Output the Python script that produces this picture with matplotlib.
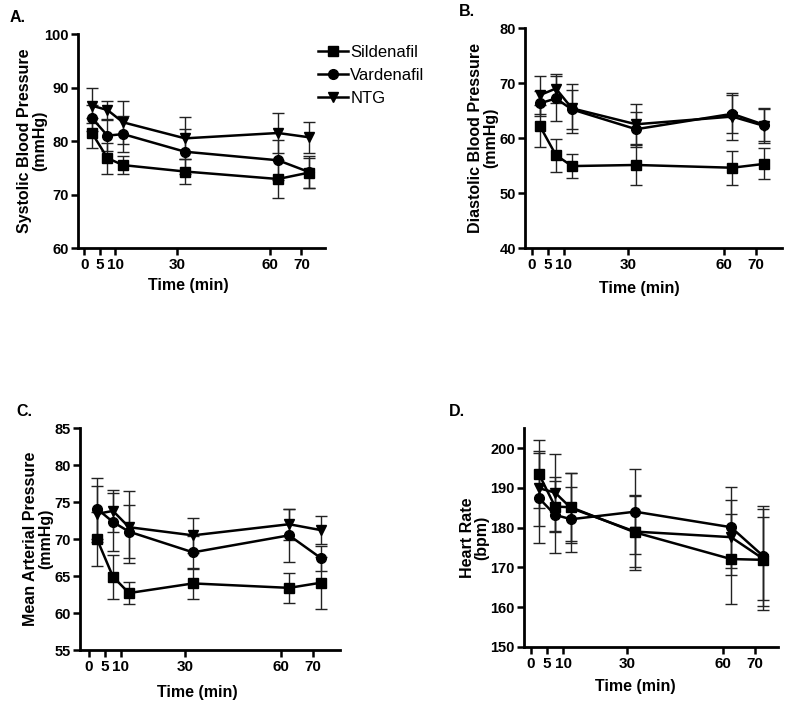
import matplotlib
matplotlib.use("Agg")
import matplotlib.pyplot as plt

plt.rcParams['font.family'] = ['Liberation Sans', 'DejaVu Sans']

# ---- data ----
time_points = [2.5, 7.5, 12.5, 32.5, 62.5, 72.5]
x_ticks = [0, 5, 10, 30, 60, 70]
series_names = ["Sildenafil", "Vardenafil", "NTG"]

sbp_sil = [81.5, 76.8, 75.5, 74.3, 72.9, 74.1]
sbp_sil_err = [2.8, 2.9, 1.7, 2.4, 3.5, 2.8]
sbp_var = [84.3, 81.0, 81.3, 78.0, 76.4, 74.2]
sbp_var_err = [2.5, 2.9, 3.4, 4.2, 3.7, 3.0]
sbp_ntg = [86.6, 85.8, 83.5, 80.5, 81.5, 80.7]
sbp_ntg_err = [3.3, 1.6, 4.0, 3.9, 3.8, 2.9]

dbp_sil = [62.2, 56.9, 54.9, 55.1, 54.6, 55.3]
dbp_sil_err = [3.8, 3.0, 2.2, 3.7, 3.1, 2.8]
dbp_var = [66.3, 67.2, 65.2, 61.6, 64.4, 62.4]
dbp_var_err = [2.3, 4.1, 3.5, 3.2, 3.4, 3.0]
dbp_ntg = [67.8, 69.0, 65.4, 62.5, 63.9, 62.2]
dbp_ntg_err = [3.4, 2.6, 4.4, 3.6, 4.3, 3.1]

map_sil = [70.0, 64.9, 62.7, 64.0, 63.4, 64.1]
map_sil_err = [3.6, 3.0, 1.5, 2.1, 2.0, 3.5]
map_var = [74.1, 72.3, 71.0, 68.2, 70.5, 67.4]
map_var_err = [4.1, 3.9, 3.6, 2.2, 3.6, 1.7]
map_ntg = [73.4, 73.8, 71.6, 70.5, 72.0, 71.2]
map_ntg_err = [3.8, 2.8, 4.9, 2.4, 2.1, 1.9]

hr_sil = [193.4, 185.3, 185.1, 178.8, 172.1, 171.9]
hr_sil_err = [8.5, 6.5, 8.5, 9.4, 11.2, 12.7]
hr_var = [187.4, 183.2, 182.1, 184.0, 180.1, 172.9]
hr_var_err = [11.3, 9.5, 8.2, 10.7, 10.2, 12.5]
hr_ntg = [189.9, 188.8, 184.9, 179.0, 177.6, 172.2]
hr_ntg_err = [9.4, 9.6, 8.7, 9.0, 9.4, 10.5]

panels = [
    dict(label="A.", ylabel="Systolic Blood Pressure\n(mmHg)", ylim=(60, 100), yticks=[60, 70, 80, 90, 100],
         xlim=(-2.0, 77.7), rect=[0.0975, 0.6487, 0.309, 0.3031], lab_xy=(10, 17),
         ylab=(-0.125, 0.5), xlab=(0.447, -0.14),
         data=[(sbp_sil, sbp_sil_err), (sbp_var, sbp_var_err), (sbp_ntg, sbp_ntg_err)]),
    dict(label="B.", ylabel="Diastolic Blood Pressure\n(mmHg)", ylim=(40, 80), yticks=[40, 50, 60, 70, 80],
         xlim=(-2.2, 77.9), rect=[0.656, 0.6487, 0.321, 0.3116], lab_xy=(459, 11),
         ylab=(-0.104, 0.5), xlab=(0.444, -0.15),
         data=[(dbp_sil, dbp_sil_err), (dbp_var, dbp_var_err), (dbp_ntg, dbp_ntg_err)]),
    dict(label="C.", ylabel="Mean Arterial Pressure\n(mmHg)", ylim=(55, 85), yticks=[55, 60, 65, 70, 75, 80, 85],
         xlim=(-2.8, 78.4), rect=[0.1, 0.0793, 0.325, 0.3144], lab_xy=(16, 412),
         ylab=(-0.102, 0.5), xlab=(0.45, -0.157),
         data=[(map_sil, map_sil_err), (map_var, map_var_err), (map_ntg, map_ntg_err)]),
    dict(label="D.", ylabel="Heart Rate\n(bpm)", ylim=(150, 205), yticks=[150, 160, 170, 180, 190, 200],
         xlim=(-2.2, 77.2), rect=[0.655, 0.0836, 0.3175, 0.310], lab_xy=(449, 412),
         ylab=(-0.135, 0.5), xlab=(0.44, -0.147),
         data=[(hr_sil, hr_sil_err), (hr_var, hr_var_err), (hr_ntg, hr_ntg_err)]),
]

markers = ["s", "o", "v"]
msizes = [7.5, 7, 7.5]

W, H = 800, 706
fig = plt.figure(figsize=(W / 100, H / 100), dpi=100)

handles = []
for p in panels:
    ax = fig.add_axes(p["rect"])
    for i, (vals, errs) in enumerate(p["data"]):
        ax.errorbar(time_points, vals, yerr=errs, fmt='none', ecolor='#222222',
                    elinewidth=1.0, capsize=4, capthick=1.0, zorder=2)
        ln, = ax.plot(time_points, vals, color='black', lw=1.8, marker=markers[i],
                      ms=msizes[i], mfc='black', mec='black', zorder=3, label=series_names[i])
        if p["label"] == "A.":
            handles.append(ln)
    ax.set_xlim(*p["xlim"])
    ax.set_ylim(*p["ylim"])
    ax.set_yticks(p["yticks"])
    ax.set_xticks(x_ticks)
    ax.set_xticklabels([str(t) for t in x_ticks])
    for s in ["top", "right"]:
        ax.spines[s].set_visible(False)
    for s in ["left", "bottom"]:
        ax.spines[s].set_linewidth(2.0)
    ax.tick_params(axis='both', direction='out', length=5, width=1.8, labelsize=11, pad=2)
    ax.tick_params(axis='y', labelsize=10.5, pad=1.5)
    for t in ax.get_xticklabels() + ax.get_yticklabels():
        t.set_fontweight('bold')
    ax.set_ylabel(p["ylabel"], fontsize=11.5, fontweight='bold', linespacing=1.0)
    ax.yaxis.set_label_coords(*p["ylab"])
    ax.set_xlabel("Time (min)", fontsize=11.5, fontweight='bold')
    ax.xaxis.set_label_coords(*p["xlab"])
    fig.text(p["lab_xy"][0] / W, 1 - p["lab_xy"][1] / H, p["label"], fontsize=11.5,
             fontweight='bold', ha='left', va='center')

fig.legend(handles=handles, labels=series_names, loc='upper left',
           bbox_to_anchor=(311 / W, 1 - 38 / H), frameon=False, fontsize=12,
           handlelength=1.8, handletextpad=0.15, labelspacing=0.48, borderaxespad=0)

fig.savefig("out.png", dpi=100)
